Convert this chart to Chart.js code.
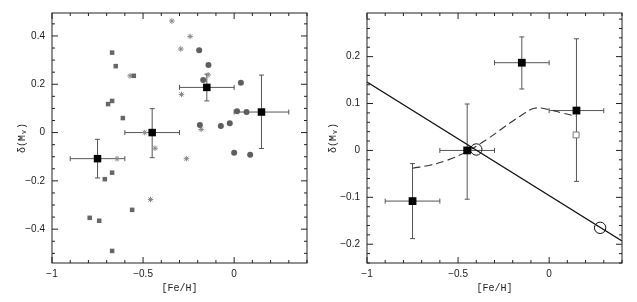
<!DOCTYPE html>
<html>
<head>
<meta charset="utf-8">
<script src="https://cdn.jsdelivr.net/npm/chart.js@4.4.0/dist/chart.umd.min.js"></script>
<style>
html, body { margin: 0; padding: 0; background: #fff; }
#wrap { position: relative; width: 637px; height: 302px; }
canvas { position: absolute; top: 0; }
#left { left: 0; }
#right { left: 318px; }
</style>
</head>
<body>
<div id="wrap">
	<canvas id="left" width="318" height="302"></canvas>
	<canvas id="right" width="319" height="302"></canvas>
</div>
<script>
// binned means (black squares, both panels)
var binFe = [-0.75, -0.45, -0.15, 0.15];
var binDelta = [-0.108, 0.0, 0.187, 0.085];
var binFeLo = [-0.90, -0.60, -0.30, 0.0];
var binFeHi = [-0.60, -0.30, 0.0, 0.30];
var binDeltaLo = [-0.188, -0.104, 0.131, -0.066];
var binDeltaHi = [-0.028, 0.099, 0.242, 0.238];

// left panel, individual stars
var sqFe = [-0.670, -0.650, -0.551, -0.692, -0.670, -0.611, -0.710, -0.670, -0.560, -0.793, -0.741, -0.670];
var sqDelta = [0.331, 0.275, 0.235, 0.118, 0.131, 0.060, -0.193, -0.166, -0.320, -0.353, -0.365, -0.490];
var circFe = [-0.192, -0.141, -0.170, 0.037, 0.016, 0.068, -0.188, -0.073, -0.024, 0.0, 0.088];
var circDelta = [0.341, 0.280, 0.218, 0.206, 0.088, 0.085, 0.031, 0.027, 0.039, -0.084, -0.092];
var starFe = [-0.342, -0.242, -0.293, -0.143, -0.571, -0.289, -0.181, -0.491, -0.434, -0.643, -0.262, -0.459];
var starDelta = [0.462, 0.398, 0.346, 0.239, 0.235, 0.158, 0.013, 0.0, -0.065, -0.108, -0.108, -0.277];

// right panel, models
var lineFe = [-1.0, 0.4];
var lineDelta = [0.146, -0.193];
var ringFe = [-0.40, 0.28];
var ringDelta = [0.002, -0.165];
var dashFe = [-0.75, -0.65, -0.56, -0.45, -0.34, -0.25, -0.16, -0.08, 0.0, 0.07, 0.148];
var dashDelta = [-0.038, -0.031, -0.021, -0.002, 0.024, 0.049, 0.073, 0.090, 0.087, 0.080, 0.073];
var openSqFe = [0.148];
var openSqDelta = [0.033];

// tick labels
var feTicks = [-1, -0.5, 0];
var leftTicks = [-0.4, -0.2, 0, 0.2, 0.4];
var rightTicks = [-0.2, -0.1, 0, 0.1, 0.2];

function pts(xs, ys) {
	var out = [];
	for (var i = 0; i < xs.length; i++) out.push({x: xs[i], y: ys[i]});
	return out;
}

function fmt(v) {
	return v === 0 ? '0' : String(v).replace('-', '\u2212');
}

function isMajor(v, step) {
	var r = v / step;
	return Math.abs(r - Math.round(r)) < 1e-6;
}

// box round the plot with small inner ticks on all four sides
function framePlugin(xMinor, xMajor, yMinor, yMajor) {
	return {
		id: 'frame',
		afterDraw: function(chart) {
			var ctx = chart.ctx, a = chart.chartArea;
			var sx = chart.scales.x, sy = chart.scales.y;
			var i, v, p, len;
			ctx.save();
			ctx.strokeStyle = '#222';
			ctx.lineWidth = 1;
			ctx.strokeRect(a.left, a.top, a.right - a.left, a.bottom - a.top);
			ctx.beginPath();
			for (i = Math.ceil(sx.min / xMinor - 1e-6); i * xMinor <= sx.max + 1e-6; i++) {
				v = i * xMinor;
				len = isMajor(v, xMajor) ? 6 : 3;
				p = sx.getPixelForValue(v);
				ctx.moveTo(p, a.bottom); ctx.lineTo(p, a.bottom - len);
				ctx.moveTo(p, a.top); ctx.lineTo(p, a.top + len);
			}
			for (i = Math.ceil(sy.min / yMinor - 1e-6); i * yMinor <= sy.max + 1e-6; i++) {
				v = i * yMinor;
				len = isMajor(v, yMajor) ? 6 : 3;
				p = sy.getPixelForValue(v);
				ctx.moveTo(a.left, p); ctx.lineTo(a.left + len, p);
				ctx.moveTo(a.right, p); ctx.lineTo(a.right - len, p);
			}
			ctx.stroke();
			ctx.restore();
		}
	};
}

// error bars with small caps
var errPlugin = {
	id: 'errbars',
	beforeDatasetsDraw: function(chart) {
		var ctx = chart.ctx, sx = chart.scales.x, sy = chart.scales.y;
		var c = 2.5;
		ctx.save();
		ctx.strokeStyle = '#555';
		ctx.lineWidth = 1;
		ctx.beginPath();
		for (var i = 0; i < binFe.length; i++) {
			var px = sx.getPixelForValue(binFe[i]);
			var py = sy.getPixelForValue(binDelta[i]);
			var x0 = sx.getPixelForValue(binFeLo[i]);
			var x1 = sx.getPixelForValue(binFeHi[i]);
			var y0 = sy.getPixelForValue(binDeltaLo[i]);
			var y1 = sy.getPixelForValue(binDeltaHi[i]);
			ctx.moveTo(x0, py); ctx.lineTo(x1, py);
			ctx.moveTo(x0, py - c); ctx.lineTo(x0, py + c);
			ctx.moveTo(x1, py - c); ctx.lineTo(x1, py + c);
			ctx.moveTo(px, y0); ctx.lineTo(px, y1);
			ctx.moveTo(px - c, y0); ctx.lineTo(px + c, y0);
			ctx.moveTo(px - c, y1); ctx.lineTo(px + c, y1);
		}
		ctx.stroke();
		ctx.restore();
	}
};

function scales(yMin, yMax, yTicks, yWidth, yTitlePad) {
	return {
		x: {
			type: 'linear', min: -1, max: 0.4,
			grid: {display: false, drawTicks: false},
			border: {display: false},
			afterBuildTicks: function(s) { s.ticks = feTicks.map(function(v) { return {value: v}; }); },
			afterFit: function(s) { s.height = 39; },
			ticks: {
				padding: 5, maxRotation: 0, autoSkip: false, color: '#222',
				font: {family: 'Liberation Sans', size: 10},
				callback: function(v) { return fmt(v); }
			},
			title: {
				display: true, text: '[Fe/H]', color: '#222',
				font: {family: 'Liberation Mono', size: 10},
				padding: {top: 0, bottom: 8}
			}
		},
		y: {
			type: 'linear', min: yMin, max: yMax,
			grid: {display: false, drawTicks: false},
			border: {display: false},
			afterBuildTicks: function(s) { s.ticks = yTicks.map(function(v) { return {value: v}; }); },
			afterFit: function(s) { s.width = yWidth; },
			ticks: {
				padding: 7, autoSkip: false, color: '#222',
				font: {family: 'Liberation Sans', size: 10},
				callback: function(v) { return fmt(v); }
			},
			title: {
				display: true, text: '\u03b4(M\u1d65)', color: '#222',
				font: {family: 'Liberation Mono', size: 10},
				padding: {top: yTitlePad, bottom: 0}
			}
		}
	};
}

var common = {
	responsive: false,
	animation: false,
	plugins: {legend: {display: false}, tooltip: {enabled: false}}
};

new Chart(document.getElementById('left'), {
	type: 'scatter',
	data: {
		datasets: [
			{data: pts(binFe, binDelta), pointStyle: 'rect', pointRadius: 5.3, backgroundColor: '#000', borderColor: '#000', borderWidth: 0},
			{data: pts(circFe, circDelta), pointStyle: 'circle', pointRadius: 3, backgroundColor: '#625c5c', borderColor: '#625c5c', borderWidth: 0},
			{data: pts(sqFe, sqDelta), pointStyle: 'rect', pointRadius: 3.2, backgroundColor: '#6a6464', borderColor: '#6a6464', borderWidth: 0},
			{data: pts(starFe, starDelta), pointStyle: 'star', pointRadius: 2.8, backgroundColor: '#888', borderColor: '#888', borderWidth: 1}
		]
	},
	options: Object.assign({}, common, {
		layout: {padding: {top: 8, right: 11, left: 0, bottom: 0}},
		scales: scales(-0.54, 0.495, leftTicks, 52, 16)
	}),
	plugins: [errPlugin, framePlugin(0.1, 0.5, 0.05, 0.2)]
});

new Chart(document.getElementById('right'), {
	type: 'scatter',
	data: {
		datasets: [
			{data: pts(binFe, binDelta), pointStyle: 'rect', pointRadius: 5.5, backgroundColor: '#000', borderColor: '#000', borderWidth: 0},
			{data: pts(openSqFe, openSqDelta), pointStyle: 'rect', pointRadius: 4.2, backgroundColor: '#fff', borderColor: '#777', borderWidth: 1},
			{data: pts(ringFe, ringDelta), pointStyle: 'circle', pointRadius: 5.7, backgroundColor: 'rgba(0,0,0,0)', borderColor: '#111', borderWidth: 1},
			{data: pts(lineFe, lineDelta), showLine: true, pointRadius: 0, borderColor: '#111', borderWidth: 1.3},
			{data: pts(dashFe, dashDelta), showLine: true, pointRadius: 0, borderColor: '#333', borderWidth: 1.1, borderDash: [8, 4], tension: 0.4}
		]
	},
	options: Object.assign({}, common, {
		layout: {padding: {top: 8, right: 15, left: 0, bottom: 0}},
		scales: scales(-0.24, 0.293, rightTicks, 49, 9)
	}),
	plugins: [errPlugin, framePlugin(0.1, 0.5, 0.02, 0.1)]
});
</script>
</body>
</html>
